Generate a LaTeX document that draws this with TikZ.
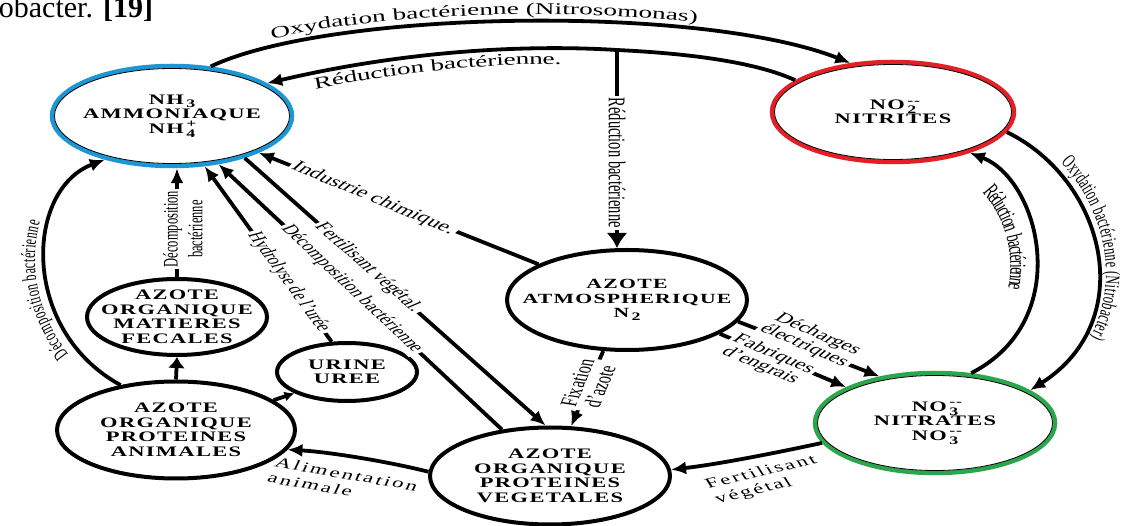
\documentclass[tikz,border=0pt]{standalone}
\usepackage{fontspec}
\setmainfont{Liberation Serif}
\newfontfamily\ellfont[FakeStretch=1.55,LetterSpace=9]{Liberation Serif}
\newfontfamily\hfont[FakeStretch=1.65]{Liberation Serif}
\newfontfamily\vfont[FakeStretch=0.6]{Liberation Serif}
\newfontfamily\vsfont[FakeStretch=0.6,LetterSpace=12]{Liberation Serif}
\newfontfamily\spfont[LetterSpace=10]{Liberation Serif}
\usetikzlibrary{shapes.geometric,arrows.meta,decorations.text}

\definecolor{nhblue}{RGB}{28,150,212}
\definecolor{nored}{RGB}{226,32,38}
\definecolor{nogreen}{RGB}{44,166,76}

\newcommand{\lowidx}[1]{\,\raisebox{-0.5ex}{\fontsize{11.5}{11}\selectfont #1}}
\newcommand{\ionchg}[2]{\,\rlap{\raisebox{0.8ex}{\fontsize{11.5}{11}\selectfont #1}}\raisebox{-0.6ex}{\fontsize{11.5}{11}\selectfont #2}}

\begin{document}
\begin{tikzpicture}[x=1pt,y=-1pt,line width=3.8pt,>={Latex[length=15pt,width=13pt]},
  ell/.style={ellipse,draw,line width=4pt,inner xsep=-50pt,inner ysep=0pt,align=center,
    font=\ellfont\bfseries\fontsize{14.5}{14.5}\selectfont},
  rim/.style={ell,line width=4.5pt,minimum width=240pt,minimum height=100pt},
  lbl/.style={xscale=1.65,inner sep=2pt,font=\fontsize{14}{15}\selectfont},
  gap/.style={lbl,fill=white}]
\useasboundingbox (0,0) rectangle (1136,526);

\node[anchor=base west,inner sep=0pt,font=\fontsize{30}{30}\selectfont] (refnote) at (-3,18) {obacter. \textbf{[19]}};

% les compartiments
\node[rim,draw=nhblue] (nh3) at (172,116) {NH\lowidx{3}\\AMMONIAQUE\\NH\ionchg{+}{4}};
\node[rim,draw=nored,minimum width=242pt] (no2) at (893,112) {NO\ionchg{--}{2}\\NITRITES};
\node[rim,draw=nogreen] (no3) at (935,423) {NO\ionchg{--}{3}\\NITRATES\\NO\ionchg{--}{3}};
\foreach \n/\rx in {nh3/117.5,no2/118.5,no3/117.5}
  \draw[line width=0.8pt] (\n.center) ellipse [x radius=\rx, y radius=47.5];
\node[ell,minimum width=240pt,minimum height=100pt,font=\ellfont\bfseries\fontsize{14}{14.5}\selectfont] (atm) at (627,300) {AZOTE\\ATMOSPHERIQUE\\N\lowidx{2}};
\node[ell,minimum width=240pt,minimum height=97pt] (veg) at (550,476) {AZOTE\\ORGANIQUE\\PROTEINES\\VEGETALES};
\node[ell,minimum width=238pt,minimum height=97pt] (ani) at (176,430) {AZOTE\\ORGANIQUE\\PROTEINES\\ANIMALES};
\node[ell,minimum width=180pt,minimum height=76pt] (fec) at (177,317) {AZOTE\\ORGANIQUE\\MATIERES\\FECALES};
\node[ell,minimum width=140pt,minimum height=58pt] (uri) at (347,372) {URINE\\UREE};

% grands arcs du haut
\draw[->,postaction={decorate,decoration={text along path,raise=7pt,text align={left indent=66pt},
    text={|\hfont\fontsize{16.5}{17}\selectfont|Oxydation bactérienne (Nitrosomonas)}}}]
  (nh3.52) .. controls (330,10) and (700,4) .. (no2.131);
\coordinate (redtop) at (617,50);
\draw[<-,postaction={decorate,decoration={text along path,raise=-16pt,text align={left indent=46pt},
    text={|\hfont\fontsize{16.5}{17}\selectfont|Réduction bactérienne.}}}]
  (nh3.19) .. controls (400,52) and (520,44) .. (redtop);
\draw (redtop) .. controls (700,54) and (760,64) .. (no2.162);
\draw[-{Latex[length=15pt,width=21pt]}] (redtop) -- node[gap,rotate=-90,pos=.57,font=\fontsize{14.5}{15}\selectfont] (redlbl) {Réduction bactérienne} (redtop |- atm.north);

% arcs de droite
\draw[->,postaction={decorate,decoration={text along path,raise=8pt,text align={left indent=60pt},
    text={|\vfont\fontsize{20.5}{22}\selectfont|Oxydation bactérienne (Nitrobacter)}}}]
  (no2.-10) .. controls (1105,180) and (1140,320) .. (no3.19);
\draw[<-,postaction={decorate,decoration={text along path,raise=-26pt,text align={left indent=40pt},
    text={|\vsfont\fontsize{23}{24}\selectfont|Réduction bactérienne}}}]
  (no2.-28) .. controls (1040,180) and (1075,320) .. (no3.54);

% arc de gauche
\draw[->,postaction={decorate,decoration={text along path,raise=10pt,text align={left indent=58pt},
    text={|\vfont\fontsize{20}{22}\selectfont|Décomposition bactérienne}}}]
  (ani.141) .. controls (20,330) and (25,190) .. (nh3.213);

% vers l'ammoniaque
\draw[->] (fec.north) -- node[xshift=6pt,gap,rotate=90,pos=.44,align=center,font=\fontsize{12.5}{15}\selectfont] (declbl) {Décomposition\\bactérienne} (fec.north |- nh3.south);
\draw[->] (uri.117) -- node[gap,rotate=-66,pos=.34,font=\fontsize{13.5}{14}\selectfont] (hydlbl) {Hydrolyse de l'urée} (nh3.-57);
\draw[->] (veg.136) -- node[gap,rotate=-57,pos=.53,font=\fontsize{13.5}{14}\selectfont] (veglbl) {Décomposition bactérienne} (nh3.-46);
\draw[->] (nh3.-30) -- node[gap,rotate=-55,pos=.41] (ferlbl) {Fertilisant végétal.} (veg.95);
\draw[->] (atm.158) -- node[gap,rotate=-34,pos=.59,font=\fontsize{15}{16}\selectfont] (indlbl) {Industrie chimique.} (nh3.-23);

% depuis l'azote atmospherique
\draw[->] (atm.245) -- node[gap,rotate=76,pos=.45,align=center,font=\fontsize{14.5}{14}\selectfont] (fixlbl) {Fixation\\d'azote} (veg.67);
\draw[->] (atm.-11) -- (no3.140);
\draw[->] (atm.-20) -- (no3.158);
\node[gap,rotate=-36,align=center,font=\fontsize{14.5}{14}\selectfont] (dechlbl) at (811,340) {Décharges\\électriques};
\node[gap,rotate=-35,align=center,font=\fontsize{14.5}{14}\selectfont] (fablbl) at (767,360) {Fabriques\\d'engrais};

% bas du cycle
\draw[-{Latex[length=11pt,width=17pt]}] (ani.north) -- (fec.south);
\draw[-{Latex[length=10pt,width=10pt]}] (ani.17) -- (uri.202);
\draw[->] (veg.178) .. controls (390,462) and (330,452) .. (ani.-10);
\node[lbl,rotate=-16,align=left,font=\spfont\fontsize{14}{16}\selectfont] (alilbl) at (343,482) {Alimentation\\animale};
\draw[->] (no3.190) .. controls (780,452) and (720,464) .. (veg.3);
\node[lbl,rotate=21,align=left,font=\spfont\fontsize{14}{16}\selectfont] (fer2lbl) at (766,480) {Fertilisant\\végétal};
\end{tikzpicture}
\end{document}
